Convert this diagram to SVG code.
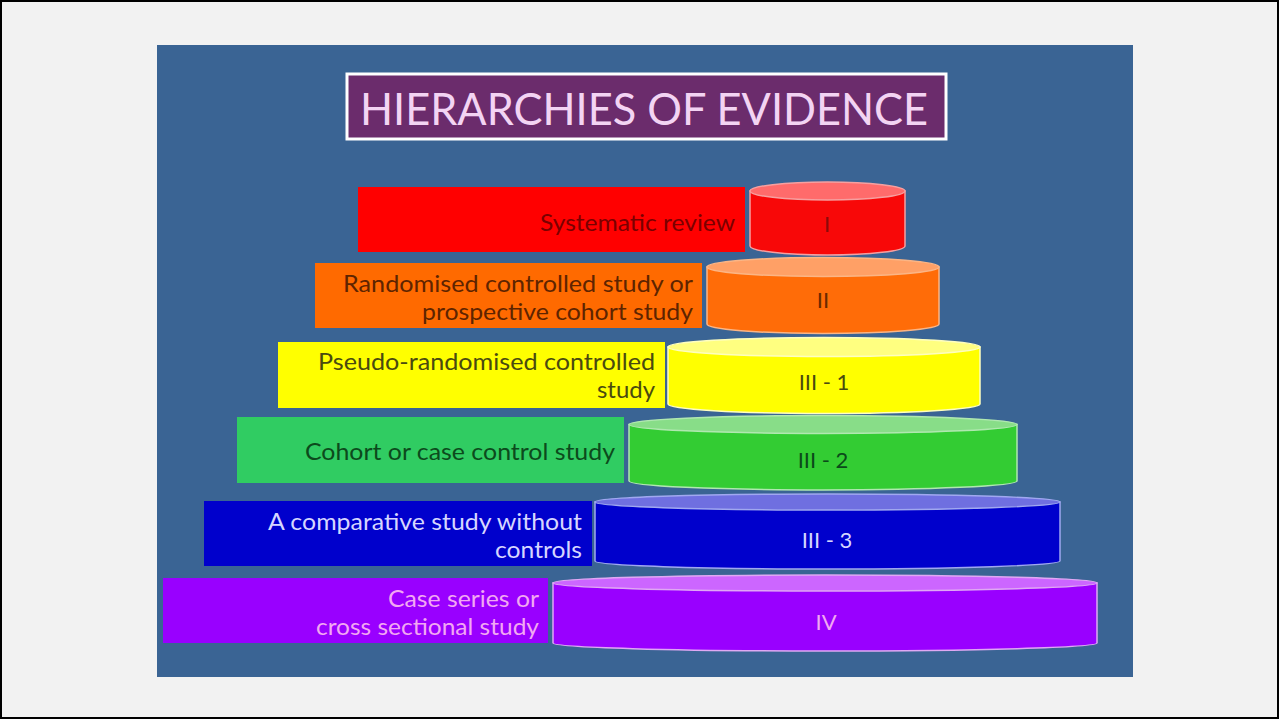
<svg xmlns="http://www.w3.org/2000/svg" width="1279" height="719" viewBox="0 0 1279 719">
<style>
.lbl{font-family:Lato,"Open Sans","Liberation Sans",sans-serif;font-size:23px;text-anchor:end}
.num{font-family:Lato,"Open Sans","Liberation Sans",sans-serif;font-size:22px;text-anchor:middle}
.side{stroke-width:1.5}
</style>
<rect x="1" y="1" width="1277" height="717" fill="#f2f2f2" stroke="#000" stroke-width="2"/>
<rect x="157" y="45" width="976" height="632" fill="#3a6494"/>
<g id="title">
<rect x="347" y="74" width="599" height="65" fill="#6b2c6c" stroke="#ffffff" stroke-width="3"/>
<text x="644" y="125" font-family="Lato,'Open Sans','Liberation Sans',sans-serif" font-size="44" fill="#f3d4f3" text-anchor="middle" textLength="568" lengthAdjust="spacingAndGlyphs">HIERARCHIES OF EVIDENCE</text>
</g>
<g id="level-I">
<rect x="358" y="187" width="387" height="65" fill="#ff0000"/>
<text class="lbl" x="735" y="231" fill="#7a0000" textLength="195" lengthAdjust="spacingAndGlyphs">Systematic review</text>
<path class="side" d="M750 191 L750 246 A77.5 9 0 0 0 905 246 L905 191 Z" fill="#f80808" stroke="#f6a0a0"/>
<ellipse cx="827.5" cy="191" rx="77.5" ry="9" fill="#ff6b6b" stroke="#f6a0a0" stroke-width="1.5"/>
<text class="num" x="827" y="232" fill="#8a0a0a">I</text>
</g>
<g id="level-II">
<rect x="315" y="263" width="387" height="65" fill="#ff6a00"/>
<text class="lbl" x="693" y="292" fill="#5e2400" textLength="350" lengthAdjust="spacingAndGlyphs">Randomised controlled study or</text>
<text class="lbl" x="693" y="320" fill="#5e2400" textLength="271" lengthAdjust="spacingAndGlyphs">prospective cohort study</text>
<path class="side" d="M707 267 L707 324 A116 9.5 0 0 0 939 324 L939 267 Z" fill="#ff6c08" stroke="#fbb585"/>
<ellipse cx="823" cy="267" rx="116" ry="9.5" fill="#ffa066" stroke="#fbb585" stroke-width="1.5"/>
<text class="num" x="823" y="308" fill="#6a2a00">II</text>
</g>
<g id="level-III-1">
<rect x="278" y="342" width="387" height="66" fill="#ffff00"/>
<text class="lbl" x="655" y="370" fill="#4a4a10" textLength="337" lengthAdjust="spacingAndGlyphs">Pseudo-randomised controlled</text>
<text class="lbl" x="655" y="398" fill="#4a4a10" textLength="58" lengthAdjust="spacingAndGlyphs">study</text>
<path class="side" d="M668 347 L668 404 A156 9.5 0 0 0 980 404 L980 347 Z" fill="#ffff00" stroke="#fefec0"/>
<ellipse cx="824" cy="347" rx="156" ry="9.5" fill="#ffff80" stroke="#fefec0" stroke-width="1.5"/>
<text class="num" x="824" y="390" fill="#4a4a10">III - 1</text>
</g>
<g id="level-III-2">
<rect x="237" y="417" width="387" height="66" fill="#30cc62"/>
<text class="lbl" x="615" y="460" fill="#0c4a1c" textLength="310" lengthAdjust="spacingAndGlyphs">Cohort or case control study</text>
<path class="side" d="M629 424.5 L629 481 A194 9 0 0 0 1017 481 L1017 424.5 Z" fill="#33cc33" stroke="#b0e8b0"/>
<ellipse cx="823" cy="424.5" rx="194" ry="9" fill="#88dd88" stroke="#b0e8b0" stroke-width="1.5"/>
<text class="num" x="823" y="468" fill="#0b4a1a">III - 2</text>
</g>
<g id="level-III-3">
<rect x="204" y="501" width="388" height="65" fill="#0000cc"/>
<text class="lbl" x="582" y="530" fill="#d6d6ff" textLength="314" lengthAdjust="spacingAndGlyphs">A comparative study without</text>
<text class="lbl" x="582" y="558" fill="#d6d6ff" textLength="87" lengthAdjust="spacingAndGlyphs">controls</text>
<path class="side" d="M595 502 L595 561 A232.5 8 0 0 0 1060 561 L1060 502 Z" fill="#0000cc" stroke="#a0a8f0"/>
<ellipse cx="827.5" cy="502" rx="232.5" ry="8" fill="#6f6fe0" stroke="#a0a8f0" stroke-width="1.5"/>
<text class="num" x="827" y="548" fill="#d6d6ff">III - 3</text>
</g>
<g id="level-IV">
<rect x="163" y="578" width="385" height="65" fill="#9900ff"/>
<text class="lbl" x="539" y="607" fill="#f2a8f2" textLength="151" lengthAdjust="spacingAndGlyphs">Case series or</text>
<text class="lbl" x="539" y="635" fill="#f2a8f2" textLength="223" lengthAdjust="spacingAndGlyphs">cross sectional study</text>
<path class="side" d="M553 583 L553 643 A272 8 0 0 0 1097 643 L1097 583 Z" fill="#9900ff" stroke="#e0a8f4"/>
<ellipse cx="825" cy="583" rx="272" ry="8" fill="#cc66ff" stroke="#e0a8f4" stroke-width="1.5"/>
<text class="num" x="826" y="630" fill="#f2a8f2">IV</text>
</g>
<g id="connectors"/>
</svg>
